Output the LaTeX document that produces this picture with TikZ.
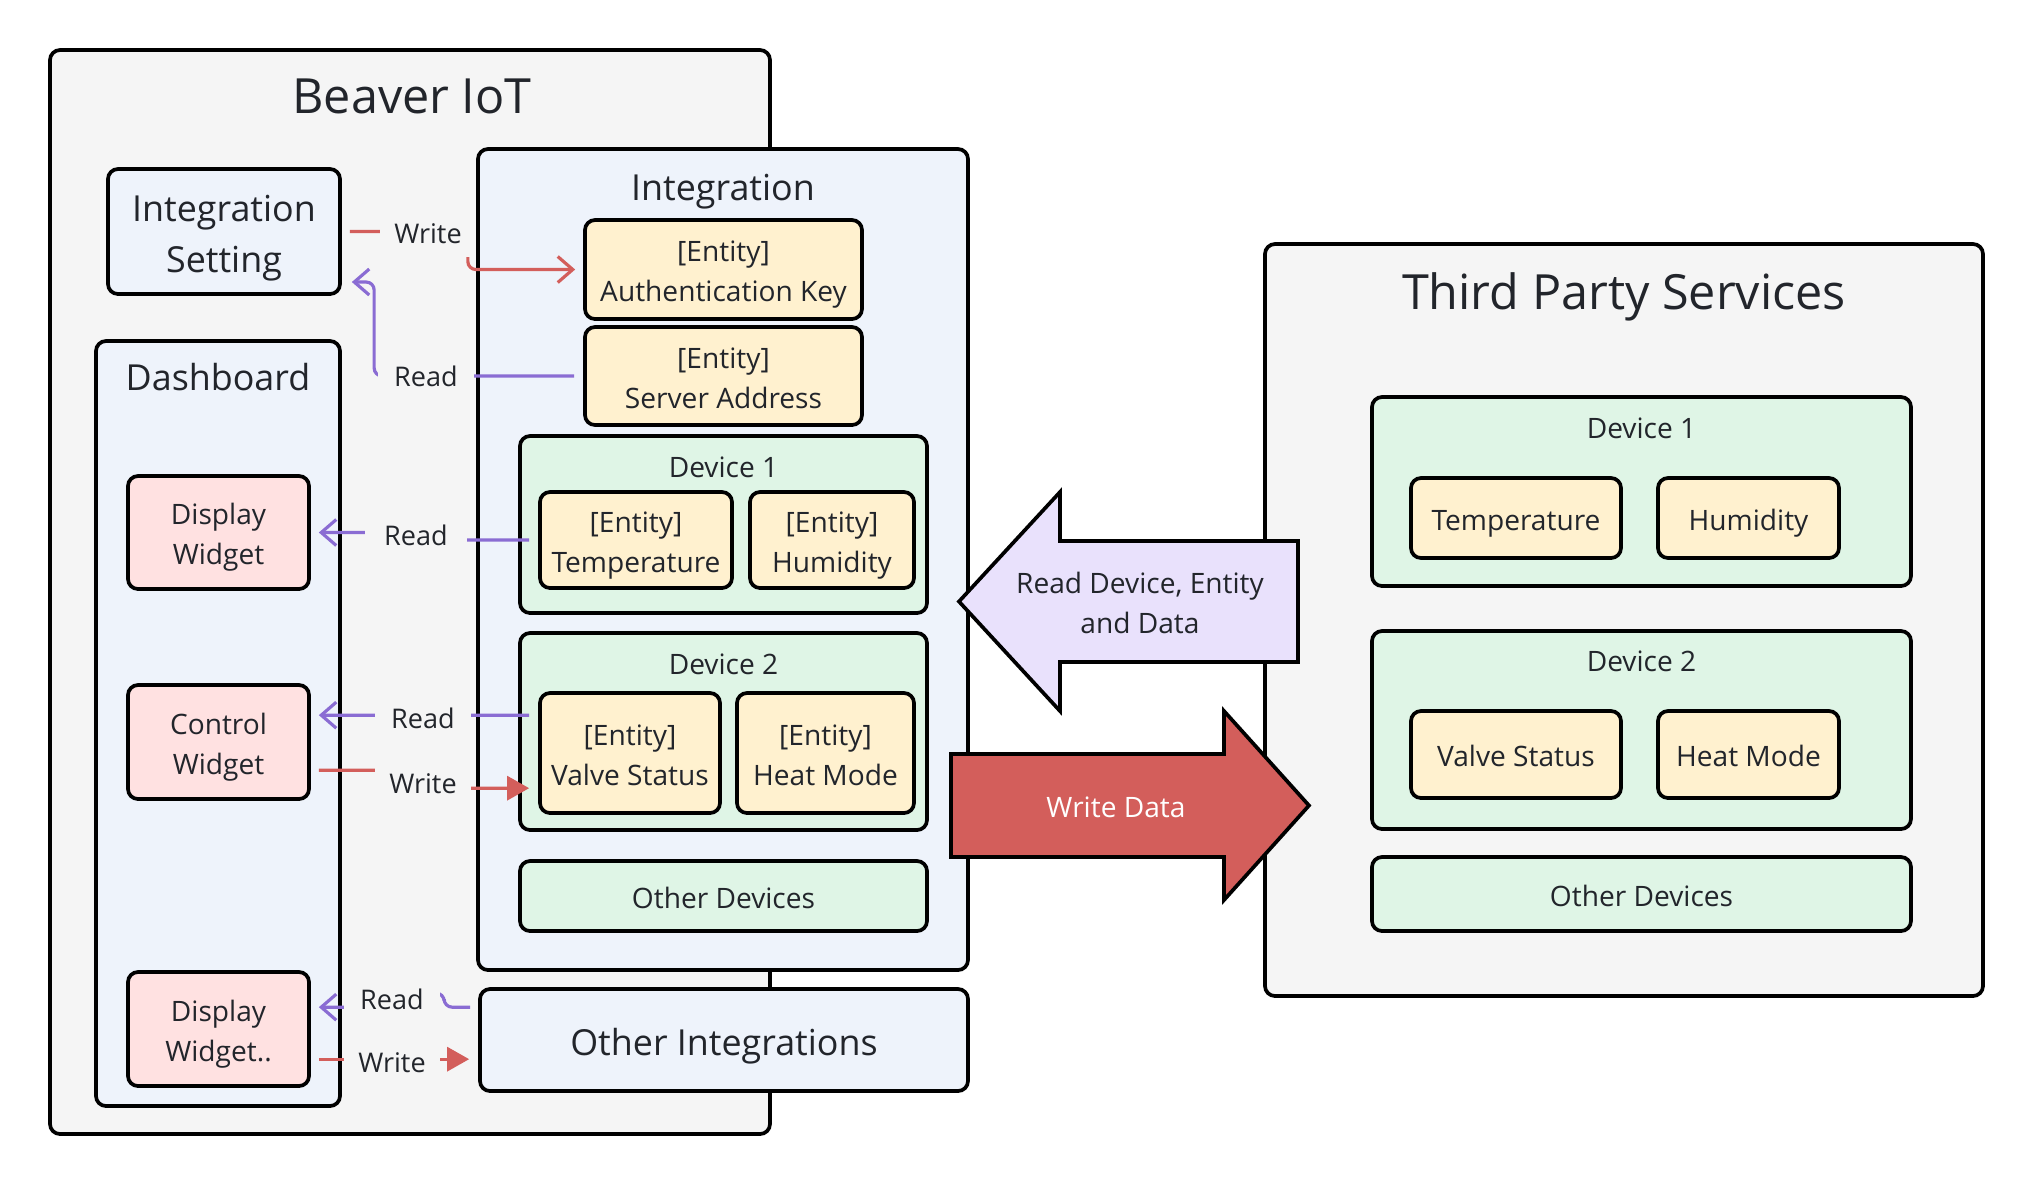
\documentclass[tikz,border=0pt]{standalone}
\usepackage{fontspec}
\setmainfont{Open Sans}
\usepackage{xcolor}
\usetikzlibrary{arrows.meta,positioning}

\definecolor{bggray}{HTML}{F5F5F5}
\definecolor{paneblue}{HTML}{EEF3FB}
\definecolor{devgreen}{HTML}{DFF5E6}
\definecolor{entyellow}{HTML}{FFF1CF}
\definecolor{widpink}{HTML}{FFE1E1}
\definecolor{readlav}{HTML}{E9E1FC}
\definecolor{writered}{HTML}{D35E5B}
\definecolor{readpurple}{HTML}{8A6CD3}
\definecolor{txtdark}{HTML}{22252B}

\newcommand{\fsBig}{\fontsize{13.8pt}{16pt}\selectfont}
\newcommand{\fsMid}{\fontsize{10.2pt}{14.5pt}\selectfont}
\newcommand{\fsTxt}{\fontsize{8pt}{11.3pt}\selectfont}
\newcommand{\fsLbl}{\fontsize{7.7pt}{10pt}\selectfont}
% line strut, one per text line
\newcommand{\lnstrut}{\rule[-0.25em]{0pt}{1.37em}}
\newcommand{\twoln}[2]{\lnstrut#1\\\lnstrut#2}

\begin{document}
\begin{tikzpicture}[
	txt/.style={execute at begin node=\lnstrut},
	box/.style={txt,draw=black,line width=1.05pt,rounded corners=0.1cm,inner sep=0pt,text=txtdark,align=center},
	group/.style={box,fill=bggray},
	panel/.style={box,fill=paneblue,font=\fsMid},
	device/.style={box,fill=devgreen,font=\fsTxt},
	entity/.style={box,fill=entyellow,font=\fsTxt},
	widget/.style={box,fill=widpink,font=\fsTxt},
	bigtitle/.style={anchor=base,inner sep=0pt,text=txtdark,font=\fsBig},
	midtitle/.style={anchor=base,inner sep=0pt,text=txtdark,font=\fsMid},
	devtitle/.style={anchor=base,inner sep=0pt,text=txtdark,font=\fsTxt},
	lbl/.style={txt,fill=bggray,minimum width=0.96cm,minimum height=0.5cm,inner sep=0pt,text=txtdark,font=\fsLbl},
	readln/.style={draw=readpurple,line width=0.9pt,rounded corners=0.08cm,-{Straight Barb[length=0.15cm,width=0.26cm]}},
	writeln/.style={draw=writered,line width=0.9pt,rounded corners=0.08cm,-{Triangle[length=0.22cm,width=0.24cm]}},
	bigarrow/.style={draw=black,line width=1.05pt}
	]
	
	\fill[white] (0,0) rectangle (20.34,-11.82);
	\useasboundingbox (0,0) rectangle (20.34,-11.82);
	
	% Beaver IoT
	\node[group,minimum width=7.2cm,minimum height=10.84cm] (beaver) at (4.10,-5.92) {};
	\node[bigtitle] (beavert) at ([xshift=0.02cm,yshift=-0.65cm]beaver.north) {Beaver IoT};
	\node[panel,minimum width=2.32cm,minimum height=1.25cm] (intset) at (2.24,-2.315) {\twoln{Integration}{Setting}};
	
	% Dashboard
	\node[panel,minimum width=2.44cm,minimum height=7.65cm] (dash) at (2.18,-7.235) {};
	\node[midtitle] (dasht) at ([yshift=-0.51cm]dash.north) {Dashboard};
	\node[widget,minimum width=1.81cm,minimum height=1.13cm] (dispw) at (2.185,-5.325) {\twoln{Display}{Widget}};
	\node[widget,minimum width=1.81cm,minimum height=1.14cm] (ctrlw) at (2.185,-7.42) {\twoln{Control}{Widget}};
	\node[widget,minimum width=1.81cm,minimum height=1.14cm] (dispw2) at (2.185,-10.29) {\twoln{Display}{Widget..}};
	
	% Integration
	\node[panel,minimum width=4.90cm,minimum height=8.21cm] (integ) at (7.23,-5.595) {};
	\node[midtitle] (integt) at ([yshift=-0.53cm]integ.north) {Integration};
	\node[entity,minimum width=2.77cm,minimum height=0.99cm] (authkey) at (7.235,-2.695) {\twoln{[Entity]}{Authentication Key}};
	\node[entity,minimum width=2.77cm,minimum height=0.98cm] (srvaddr) at (7.235,-3.76) {\twoln{[Entity]}{Server Address}};
	\node[device,minimum width=4.07cm,minimum height=1.77cm] (dev1) at (7.235,-5.245) {};
	\node[devtitle] (dev1t) at ([yshift=-0.43cm]dev1.north) {Device 1};
	\node[entity,minimum width=1.92cm,minimum height=0.96cm] (temp1) at (6.36,-5.40) {\twoln{[Entity]}{Temperature}};
	\node[entity,minimum width=1.64cm,minimum height=0.96cm] (humi1) at (8.32,-5.40) {\twoln{[Entity]}{Humidity}};
	\node[device,minimum width=4.07cm,minimum height=1.97cm] (dev2) at (7.235,-7.315) {};
	\node[devtitle] (dev2t) at ([yshift=-0.43cm]dev2.north) {Device 2};
	\node[entity,minimum width=1.80cm,minimum height=1.20cm] (valve1) at (6.30,-7.53) {\twoln{[Entity]}{Valve Status}};
	\node[entity,minimum width=1.77cm,minimum height=1.20cm] (heat1) at (8.255,-7.53) {\twoln{[Entity]}{Heat Mode}};
	\node[device,minimum width=4.07cm,minimum height=0.70cm] (othdev1) at (7.235,-8.96) {Other Devices};
	\node[panel,minimum width=4.88cm,minimum height=1.02cm] (othint) at (7.24,-10.40) {Other Integrations};
	
	% Third Party Services
	\node[group,minimum width=7.18cm,minimum height=7.52cm] (tps) at (16.24,-6.20) {};
	\node[bigtitle] (tpst) at ([yshift=-0.67cm]tps.north) {Third Party Services};
	\node[device,minimum width=5.39cm,minimum height=1.89cm] (tdev1) at (16.415,-4.915) {};
	\node[devtitle] (tdev1t) at ([yshift=-0.43cm]tdev1.north) {Device 1};
	\node[entity,minimum width=2.10cm,minimum height=0.80cm] (temp2) at (15.16,-5.18) {Temperature};
	\node[entity,minimum width=1.81cm,minimum height=0.80cm] (humi2) at (17.485,-5.18) {Humidity};
	\node[device,minimum width=5.39cm,minimum height=1.98cm] (tdev2) at (16.415,-7.30) {};
	\node[devtitle] (tdev2t) at ([yshift=-0.42cm]tdev2.north) {Device 2};
	\node[entity,minimum width=2.10cm,minimum height=0.87cm] (valve2) at (15.16,-7.545) {Valve Status};
	\node[entity,minimum width=1.81cm,minimum height=0.87cm] (heat2) at (17.485,-7.545) {Heat Mode};
	\node[device,minimum width=5.39cm,minimum height=0.74cm] (othdev2) at (16.415,-8.94) {Other Devices};
	
	% Read / Write
	\draw[writeln,-{Straight Barb[length=0.15cm,width=0.26cm]},shorten <=0.08cm,shorten >=0.08cm] (intset.east) -- ++(1.26,0) |- (authkey.west);
	\node[lbl] (wrl1) at (4.28,-2.32) {Write};
	\draw[readln,shorten <=0.09cm,shorten >=0.1cm] (srvaddr.west) -- ++(-2.09,0) |- ([yshift=-0.505cm]intset.east);
	\node[lbl,minimum height=0.28cm] (rdl1) at (4.26,-3.75) {Read};
	
	\draw[readln,shorten <=0.09cm,shorten >=0.08cm] (temp1.west) -- ++(-1.2,0) |- (dispw.east);
	\node[lbl,minimum width=1.02cm] (rdl2) at (4.16,-5.34) {Read};
	
	\draw[readln,shorten <=0.09cm,shorten >=0.08cm] ([yshift=-0.24cm]valve1.north west) -- ([yshift=-0.32cm]ctrlw.north east);
	\node[lbl] (rdl3) at (4.23,-7.17) {Read};
	\draw[writeln,shorten <=0.08cm,shorten >=0.09cm] ([yshift=-0.87cm]ctrlw.north east) -- ++(1.0,0) |- ([yshift=-0.97cm]valve1.north west);
	\node[lbl] (wrl2) at (4.23,-7.82) {Write};
	
	\draw[readln,shorten <=0.08cm,shorten >=0.08cm] ([yshift=-0.20cm]othint.north west) -- ++(-0.34,0) -- ++(0,0.14) -- ++(-0.70,0) |- ([yshift=-0.37cm]dispw2.north east);
	\node[lbl] (rdl4) at (3.92,-9.98) {Read};
	\draw[writeln,shorten <=0.08cm,shorten >=0.09cm] ([yshift=-0.89cm]dispw2.north east) -- ([yshift=-0.72cm]othint.north west);
	\node[lbl] (wrl3) at (3.92,-10.61) {Write};
	
	% Big arrows
	\draw[bigarrow,fill=readlav] (12.98,-5.41) -- (10.60,-5.41) -- (10.60,-4.92) -- (9.59,-6.015) -- (10.60,-7.11) -- (10.60,-6.62) -- (12.98,-6.62) -- cycle;
	\node[font=\fsTxt,text=txtdark,align=center,inner sep=0pt] (readdev) at (11.40,-6.015) {\twoln{Read Device, Entity}{and Data}};
	\draw[bigarrow,fill=writered] (9.51,-7.54) -- (12.24,-7.54) -- (12.24,-7.11) -- (13.09,-8.055) -- (12.24,-9.00) -- (12.24,-8.57) -- (9.51,-8.57) -- cycle;
	\node[txt,font=\fsTxt,text=white,inner sep=0pt] (writedat) at (11.16,-8.055) {Write Data};
	
\end{tikzpicture}
\end{document}
